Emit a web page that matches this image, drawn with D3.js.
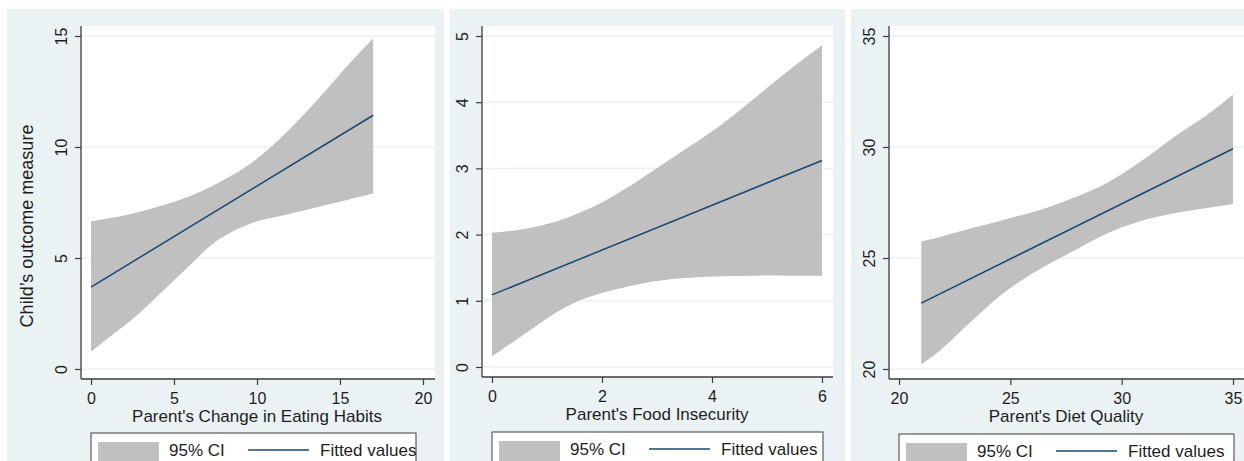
<!DOCTYPE html>
<html>
<head>
<meta charset="utf-8">
<script src="https://cdn.jsdelivr.net/npm/d3@7"></script>
<style>
  body { margin: 0; background: #fff; }
  svg { display: block; font-family: "Liberation Sans", Arial, sans-serif; }
</style>
</head>
<body>
<svg id="chart" width="1244" height="461"></svg>
<script>
// panel 1 - change in eating habits
var habitsX = [0, 1.3, 2.65, 5.66, 7.65, 9.7, 11.69, 13.67, 15.5, 17];
var habitsUpper = [6.65, 6.82, 7.03, 7.7, 8.38, 9.3, 10.6, 12.15, 13.7, 14.9];
var habitsLower = [0.77, 1.55, 2.34, 4.46, 5.81, 6.58, 6.94, 7.3, 7.62, 7.9];
var habitsFit = [[0, 3.69], [17, 11.43]];
var habitsTicksX = [0, 5, 10, 15, 20];
var habitsTicksY = [0, 5, 10, 15];

// panel 2 - food insecurity
var foodX = [0, 0.56, 1.05, 1.47, 1.96, 2.44, 2.99, 3.59, 4.2, 4.8, 5.41, 6];
var foodUpper = [2.03, 2.08, 2.17, 2.29, 2.47, 2.7, 3.0, 3.33, 3.68, 4.08, 4.49, 4.86];
var foodLower = [0.16, 0.48, 0.76, 0.96, 1.11, 1.21, 1.3, 1.35, 1.37, 1.38, 1.38, 1.38];
var foodFit = [[0, 1.09], [6, 3.12]];
var foodTicksX = [0, 2, 4, 6];
var foodTicksY = [0, 1, 2, 3, 4, 5];

// panel 3 - diet quality
var dietX = [21, 21.8, 23.3, 24.8, 26.33, 27.81, 29.34, 30.82, 32.3, 33.83, 35];
var dietUpper = [25.75, 25.94, 26.35, 26.75, 27.16, 27.7, 28.38, 29.32, 30.41, 31.44, 32.35];
var dietLower = [20.2, 20.8, 22.2, 23.5, 24.5, 25.3, 26.1, 26.65, 27.0, 27.25, 27.43];
var dietFit = [[21, 22.97], [35, 29.92]];
var dietTicksX = [20, 25, 30, 35];
var dietTicksY = [20, 25, 30, 35];

var svg = d3.select("#chart");

var bgCol = "#eaf2f3";
var ciCol = "#c0c0c0";
var lineCol = "#1a476f";
var axisCol = "#3c3c3c";
var textCol = "#1e1e1e";

function drawPanel(p) {
  // panel background
  svg.append("rect")
    .attr("x", p.bg[0]).attr("y", 9)
    .attr("width", p.bg[1] - p.bg[0]).attr("height", 461 - 9)
    .attr("fill", bgCol);

  // white plot region
  svg.append("rect")
    .attr("x", p.plot[0]).attr("y", 26)
    .attr("width", p.plot[1] - p.plot[0]).attr("height", p.axisY - 26)
    .attr("fill", "#fff");

  var x = d3.scaleLinear().domain(p.xDomain).range(p.xRange);
  var y = d3.scaleLinear().domain(p.yDomain).range(p.yRange);

  // grid
  svg.append("g").selectAll("line")
    .data(p.ticksY)
    .enter().append("line")
      .attr("x1", p.plot[0]).attr("x2", p.plot[1])
      .attr("y1", function(d) { return y(d); })
      .attr("y2", function(d) { return y(d); })
      .attr("stroke", bgCol)
      .attr("stroke-width", 1.5);

  // confidence band
  var band = p.ciX.map(function(d, i) { return { x: d, lo: p.lower[i], hi: p.upper[i] }; });
  svg.append("path")
    .datum(band)
    .attr("d", d3.area()
      .curve(d3.curveCatmullRom)
      .x(function(d) { return x(d.x); })
      .y0(function(d) { return y(d.lo); })
      .y1(function(d) { return y(d.hi); }))
    .attr("fill", ciCol);

  // fitted line
  svg.append("path")
    .datum(p.fit)
    .attr("d", d3.line()
      .x(function(d) { return x(d[0]); })
      .y(function(d) { return y(d[1]); }))
    .attr("fill", "none")
    .attr("stroke", lineCol)
    .attr("stroke-width", 1.5);

  // axis lines
  svg.append("line")
    .attr("x1", p.plot[0]).attr("x2", p.plot[0])
    .attr("y1", 26).attr("y2", p.axisY)
    .attr("stroke", axisCol).attr("stroke-width", 1.3);
  svg.append("line")
    .attr("x1", p.plot[0]).attr("x2", p.plot[1])
    .attr("y1", p.axisY).attr("y2", p.axisY)
    .attr("stroke", axisCol).attr("stroke-width", 1.3);

  var yAxis = svg.append("g")
    .attr("transform", "translate(" + p.plot[0] + ",0)")
    .call(d3.axisLeft(y).tickValues(p.ticksY).tickFormat(d3.format("d")).tickSize(6).tickSizeOuter(0));
  yAxis.select(".domain").remove();
  yAxis.attr("font-family", null).attr("font-size", null);
  yAxis.selectAll("line").attr("stroke", axisCol).attr("stroke-width", 1.2);
  yAxis.selectAll("text")
    .attr("transform", "rotate(-90)")
    .attr("x", 0).attr("y", -20).attr("dy", "0.35em")
    .attr("text-anchor", "middle")
    .attr("fill", textCol)
    .style("font-size", "16px");

  var xAxis = svg.append("g")
    .attr("transform", "translate(0," + p.axisY + ")")
    .call(d3.axisBottom(x).tickValues(p.ticksX).tickFormat(d3.format("d")).tickSize(6).tickSizeOuter(0));
  xAxis.select(".domain").remove();
  xAxis.attr("font-family", null).attr("font-size", null);
  xAxis.selectAll("line").attr("stroke", axisCol).attr("stroke-width", 1.2);
  xAxis.selectAll("text")
    .attr("y", 19).attr("dy", "0.35em")
    .attr("fill", textCol)
    .style("font-size", "16px");

  // x title
  svg.append("text")
    .attr("x", (p.xRange[0] + p.xRange[1]) / 2)
    .attr("y", p.axisY + 37)
    .attr("dy", "0.35em")
    .attr("text-anchor", "middle")
    .attr("fill", textCol)
    .style("font-size", "17px")
    .text(p.title);

  // legend
  var lg = svg.append("g").attr("transform", "translate(" + p.legend[0] + "," + p.legend[1] + ")");
  lg.append("rect")
    .attr("x", 0).attr("y", 0)
    .attr("width", p.legend[2]).attr("height", 40)
    .attr("fill", "#fff").attr("stroke", axisCol).attr("stroke-width", 1);
  lg.append("rect")
    .attr("x", 7).attr("y", 9).attr("width", 61).attr("height", 30)
    .attr("fill", ciCol);
  lg.append("text")
    .attr("x", 78).attr("y", 17).attr("dy", "0.35em")
    .attr("fill", textCol).style("font-size", "17px")
    .text("95% CI");
  lg.append("line")
    .attr("x1", 157).attr("x2", 218).attr("y1", 17).attr("y2", 17)
    .attr("stroke", lineCol).attr("stroke-width", 1.5);
  lg.append("text")
    .attr("x", 229).attr("y", 17).attr("dy", "0.35em")
    .attr("fill", textCol).style("font-size", "17px")
    .text("Fitted values");
}

drawPanel({
  bg: [7, 444], plot: [81, 435], axisY: 379,
  xDomain: [0, 20], xRange: [91, 423],
  yDomain: [0, 15], yRange: [369, 36],
  ciX: habitsX, upper: habitsUpper, lower: habitsLower,
  fit: habitsFit, ticksX: habitsTicksX, ticksY: habitsTicksY,
  title: "Parent's Change in Eating Habits",
  legend: [91, 433, 325]
});

drawPanel({
  bg: [450, 845], plot: [482, 833], axisY: 377,
  xDomain: [0, 6], xRange: [492, 822],
  yDomain: [0, 5], yRange: [367, 36],
  ciX: foodX, upper: foodUpper, lower: foodLower,
  fit: foodFit, ticksX: foodTicksX, ticksY: foodTicksY,
  title: "Parent's Food Insecurity",
  legend: [492, 432, 331]
});

drawPanel({
  bg: [851, 1244], plot: [889, 1244], axisY: 379,
  xDomain: [20, 35], xRange: [899, 1233],
  yDomain: [20, 35], yRange: [369, 36],
  ciX: dietX, upper: dietUpper, lower: dietLower,
  fit: dietFit, ticksX: dietTicksX, ticksY: dietTicksY,
  title: "Parent's Diet Quality",
  legend: [899, 434, 335]
});

// y title on the first panel
svg.append("text")
  .attr("transform", "translate(27,226) rotate(-90)")
  .attr("text-anchor", "middle")
  .attr("dy", "0.35em")
  .attr("fill", textCol)
  .style("font-size", "18px")
  .text("Child’s outcome measure");
</script>
</body>
</html>
